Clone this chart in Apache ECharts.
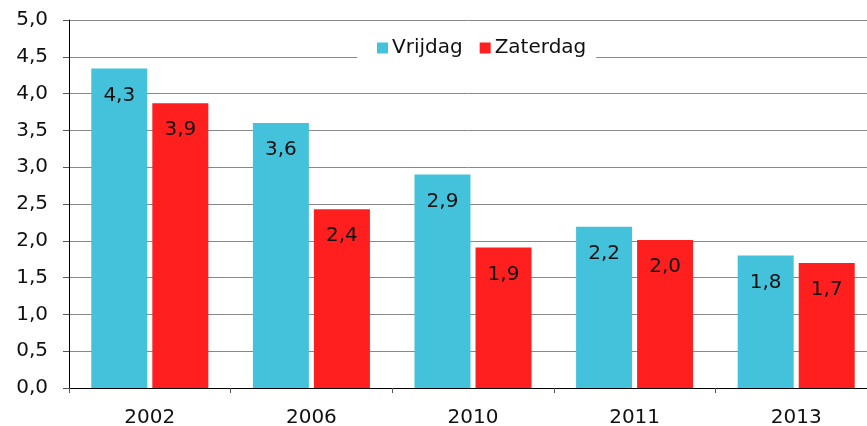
<!DOCTYPE html>
<html>
<head>
<meta charset="utf-8">
<script src="https://cdn.jsdelivr.net/npm/echarts@6/dist/echarts.min.js"></script>
<style>
html,body{margin:0;padding:0;background:#fff;}
#main{width:867px;height:426px;}
</style>
</head>
<body>
<div id="main"></div>
<script>
// jaren en waarden
var jaren = ['2002', '2006', '2010', '2011', '2013'];
var vrijdag = [4.34, 3.60, 2.90, 2.19, 1.80];
var zaterdag = [3.87, 2.43, 1.91, 2.01, 1.70];

var myChart = echarts.init(document.getElementById('main'));

function komma(v) {
    return v.toFixed(1).replace('.', ',');
}

var labelStyle = {
    show: true,
    position: 'insideTop',
    distance: 17,
    color: '#111',
    fontFamily: 'DejaVu Sans',
    fontSize: 20,
    formatter: function (p) { return komma(p.value); }
};

var option = {
    animation: false,
    backgroundColor: '#fff',
    textStyle: {fontFamily: 'DejaVu Sans'},
    grid: {
        left: 69,
        top: 20,
        width: 808,
        height: 368,
        outerBoundsMode: 'none',
        containLabel: false
    },
    legend: {
        data: ['Vrijdag', 'Zaterdag'],
        left: 357,
        top: 35,
        padding: [3, 10, 3, 20],
        itemGap: 17,
        itemWidth: 11,
        itemHeight: 11,
        backgroundColor: '#fff',
        icon: 'rect',
        textStyle: {color: '#111', fontSize: 20, fontFamily: 'DejaVu Sans', padding: [0, 0, 0, -1]}
    },
    xAxis: {
        type: 'category',
        data: jaren,
        axisLine: {lineStyle: {color: '#000', width: 1}},
        axisTick: {show: true, length: 5, lineStyle: {color: '#555'}},
        axisLabel: {color: '#111', fontSize: 20, margin: 20, fontFamily: 'DejaVu Sans'}
    },
    yAxis: {
        type: 'value',
        min: 0,
        max: 5,
        interval: 0.5,
        axisLine: {show: true, lineStyle: {color: '#000', width: 1}},
        axisTick: {show: true, length: 6, lineStyle: {color: '#555'}},
        axisLabel: {
            color: '#111', fontSize: 20, margin: 21, fontFamily: 'DejaVu Sans',
            formatter: function (v) { return komma(v); }
        },
        splitLine: {lineStyle: {color: '#888', width: 1}}
    },
    series: [
        {
            name: 'Vrijdag',
            type: 'bar',
            data: vrijdag,
            barWidth: 56,
            barGap: '9%',
            itemStyle: {color: '#45C2DB'},
            label: labelStyle
        },
        {
            name: 'Zaterdag',
            type: 'bar',
            data: zaterdag,
            barWidth: 56,
            itemStyle: {color: '#FF1F1F'},
            label: labelStyle
        }
    ]
};

myChart.setOption(option);
</script>
</body>
</html>
